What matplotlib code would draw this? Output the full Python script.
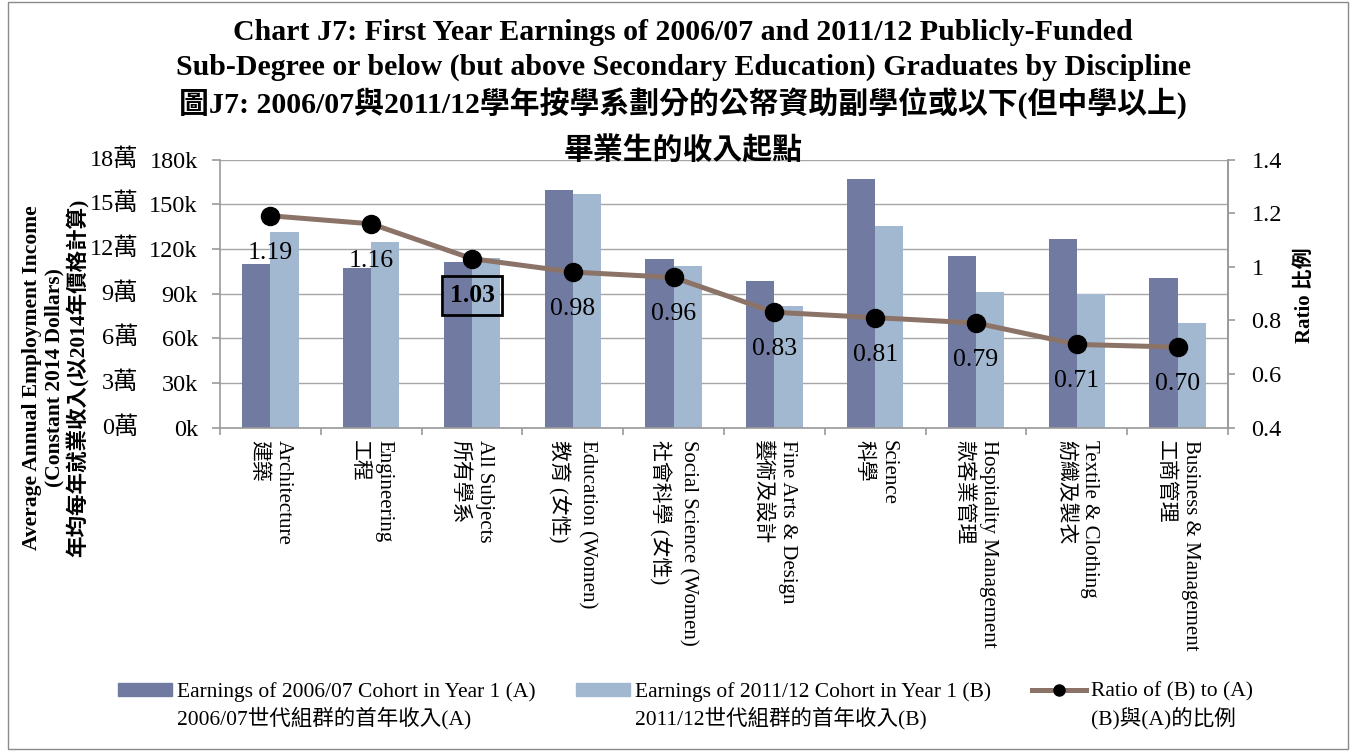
import matplotlib
matplotlib.use('Agg')
import matplotlib.pyplot as plt
import matplotlib.transforms as mtransforms
from matplotlib.lines import Line2D
from matplotlib.patches import Patch, Rectangle

FONT = ['Liberation Serif', 'Noto Sans CJK TC', 'DejaVu Sans']
plt.rcParams['font.family'] = FONT

# ---------------- data ----------------
categories_en = ['Architecture', 'Engineering', 'All Subjects', 'Education (Women)',
                 'Social Science (Women)', 'Fine Arts & Design', 'Science',
                 'Hospitality Management', 'Textile & Clothing', 'Business & Management']
categories_zh = ['建築', '工程', '所有學系', '教育 (女性)', '社會科學 (女性)', '藝術及設計',
                 '科學', '款客業管理', '紡織及製衣', '工商管理']
earnings_a = [110100, 107000, 111000, 159600, 113500, 98500, 167000, 115000, 126300, 100500]
earnings_b = [131600, 124700, 113700, 157100, 108600, 81500, 135200, 91100, 89500, 70300]
ratio = [1.19, 1.16, 1.03, 0.98, 0.96, 0.83, 0.81, 0.79, 0.71, 0.70]
ratio_labels = ['1.19', '1.16', '1.03', '0.98', '0.96', '0.83', '0.81', '0.79', '0.71', '0.70']
highlight_category = 'All Subjects'

left_ticks = [0, 30000, 60000, 90000, 120000, 150000, 180000]
left_labels_k = ['0k', '30k', '60k', '90k', '120k', '150k', '180k']
left_labels_wan = ['0萬', '3萬', '6萬', '9萬', '12萬', '15萬', '18萬']
right_ticks = [0.4, 0.6, 0.8, 1.0, 1.2, 1.4]
right_labels = ['0.4', '0.6', '0.8', '1', '1.2', '1.4']

series_a_label = ('Earnings of 2006/07 Cohort in Year 1 (A)', '2006/07世代組群的首年收入(A)')
series_b_label = ('Earnings of 2011/12 Cohort in Year 1 (B)', '2011/12世代組群的首年收入(B)')
ratio_label = ('Ratio of (B) to (A)', '(B)與(A)的比例')

title_lines = ['Chart J7: First Year Earnings of 2006/07 and 2011/12 Publicly-Funded',
               'Sub-Degree or below (but above Secondary Education) Graduates by Discipline',
               '圖J7: 2006/07與2011/12學年按學系劃分的公帑資助副學位或以下(但中學以上)',
               '畢業生的收入起點']
ylabel_left = ('Average Annual Employment Income\n(Constant 2014 Dollars)\n'
               '年均每年就業收入(以2014年價格計算)')
ylabel_right = 'Ratio 比例'

# ---------------- style ----------------
COL_A = '#717BA2'
COL_B = '#A2B8D0'
COL_LINE = '#8C7367'
GRID = '#A6A6A6'
SPINE = '#9A9A9A'

W, H = 1354, 751
fig = plt.figure(figsize=(W / 100, H / 100), dpi=100)
fig.patch.set_facecolor('white')

def fx(px):
    return px / W

def fy(py):
    return 1 - py / H

ax = fig.add_axes([fx(220), fy(427.5), fx(1228) - fx(220), fy(159.5) - fy(427.5)])
n = len(categories_en)
x = list(range(n))
bw = 0.28
ax.bar([i - bw / 2 for i in x], earnings_a, width=bw, color=COL_A, zorder=2)
ax.bar([i + bw / 2 for i in x], earnings_b, width=bw, color=COL_B, zorder=2)
ax.set_xlim(-0.5, n - 0.5)
ax.set_ylim(0, 180000)
ax.set_axisbelow(True)
ax.yaxis.grid(True, color=GRID, lw=1.0)
ax.spines['top'].set_visible(False)
for s in ['left', 'right', 'bottom']:
    ax.spines[s].set_color(SPINE)
    ax.spines[s].set_linewidth(1.2)

ax.set_yticks(left_ticks)
ax.set_yticklabels(left_labels_k)
ax.tick_params(axis='y', direction='out', length=6, color=SPINE, width=1.2,
               labelsize=17.5, pad=10)

ax.set_xticks(x)
ax.set_xticklabels([f'{e}\n{z}' for e, z in zip(categories_en, categories_zh)],
                   rotation=-90, va='top', ha='center', multialignment='left',
                   fontsize=15, linespacing=1.4)
ax.tick_params(axis='x', which='major', length=0, pad=9)
ax.set_xticks([i - 0.5 for i in range(n + 1)], minor=True)
ax.tick_params(axis='x', which='minor', direction='out', length=5, color=SPINE, width=1.2)

tr = mtransforms.blended_transform_factory(fig.transFigure, ax.transData)
for v, lab in zip(left_ticks, left_labels_wan):
    ax.text(fx(138), v, lab, transform=tr, ha='right', va='center', fontsize=17.5)

ax2 = ax.twinx()
ax2.set_ylim(0.4, 1.4)
ax2.set_yticks(right_ticks)
ax2.set_yticklabels(right_labels)
ax2.tick_params(axis='y', direction='out', length=5, color=SPINE, width=1.2,
                labelsize=17.5, pad=12)
for s in ['top', 'left', 'bottom']:
    ax2.spines[s].set_visible(False)
ax2.spines['right'].set_color(SPINE)
ax2.spines['right'].set_linewidth(1.2)
ax2.plot(x, ratio, color=COL_LINE, lw=3.6, marker='o', ms=13,
         mfc='black', mec='black', zorder=3)
for i, (r, lab) in enumerate(zip(ratio, ratio_labels)):
    if categories_en[i] == highlight_category:
        ax2.annotate(lab, (i, r), xytext=(0, -37), textcoords='offset pixels',
                     ha='center', va='center', fontsize=18.5, fontweight='bold',
                     bbox=dict(boxstyle='square,pad=0.3', fc='none', ec='black', lw=2))
    else:
        ax2.annotate(lab, (i, r), xytext=(0, -37), textcoords='offset pixels',
                     ha='center', va='center', fontsize=18.5)

# titles
title_y = [32, 67, 104, 150]
for t, yy in zip(title_lines, title_y):
    fig.text(fx(683), fy(yy), t, ha='center', va='center', fontsize=21.5,
             fontweight='bold', zorder=5)

fig.text(fx(56), fy(378), ylabel_left, rotation=90, ha='center', va='center',
         fontsize=15.5, fontweight='bold', linespacing=1.15)
fig.text(fx(1305), fy(295), ylabel_right, rotation=90, ha='center', va='center',
         fontsize=15, fontweight='bold')

# legend
handles = [Patch(color=COL_A), Patch(color=COL_B),
           Line2D([], [], color=COL_LINE, lw=3.6, marker='o', ms=8,
                  mfc='black', mec='black')]
leg = fig.legend(handles, [series_a_label[0], series_b_label[0], ratio_label[0]],
                 loc='center left', bbox_to_anchor=(fx(118), fy(692)), ncol=3,
                 frameon=False, fontsize=15.5, handlelength=2.5, handleheight=0.55,
                 handletextpad=0.23, columnspacing=1.9, borderaxespad=0, borderpad=0)
fig.canvas.draw()
renderer = fig.canvas.get_renderer()
for t, second in zip(leg.get_texts(), [series_a_label[1], series_b_label[1], ratio_label[1]]):
    bb = t.get_window_extent(renderer)
    fig.text(bb.x0 / W, fy(718), second, ha='left', va='center', fontsize=15.5)

fig.add_artist(Rectangle((fx(8), 0.002), fx(1348) - fx(8), 0.996, transform=fig.transFigure,
                         fill=False, ec='#8A8A8A', lw=1.0))

fig.savefig('out.png', dpi=100, facecolor='white')
